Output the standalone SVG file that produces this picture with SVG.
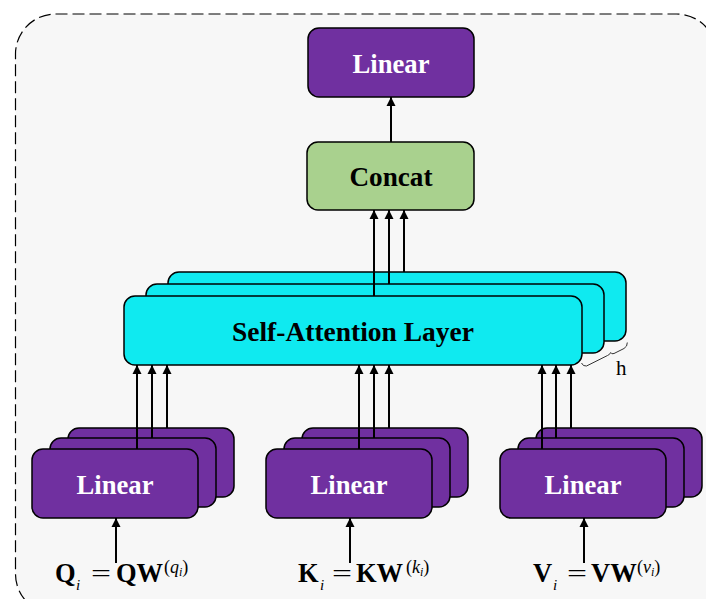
<svg xmlns="http://www.w3.org/2000/svg" width="706" height="599" viewBox="0 0 706 599">
<defs>
<marker id="ah" viewBox="0 0 10 10" refX="10" refY="5" markerWidth="9" markerHeight="10" markerUnits="userSpaceOnUse" orient="auto">
<path d="M0,0 L10,5 L0,10 z" fill="#000"/>
</marker>
<style>
.frame{fill:#f7f7f7;stroke:#000;stroke-width:1.2;stroke-dasharray:12,5}
.pur{fill:#7030a0;stroke:#000;stroke-width:1.5}
.grn{fill:#a9d18e;stroke:#000;stroke-width:1.5}
.cyn{fill:#0feaf0;stroke:#000;stroke-width:1.5}
.lbl{font-family:"Liberation Serif","Times New Roman",serif;font-weight:bold;font-size:28px;text-anchor:middle}
.wt{fill:#fff}
.bk{fill:#000}
.cn{stroke:#000;stroke-width:2;fill:none;marker-end:url(#ah)}
.f{font-family:"Liberation Serif","Times New Roman",serif;fill:#000}
.fb{font-weight:bold;font-size:26.5px}
.fn{font-size:26px}
.fi{font-style:italic;font-size:15px}
.fs{font-size:18px}
.fsi{font-style:italic;font-size:18px}
.fss{font-style:italic;font-size:12px}
</style>
</defs>
<rect class="frame" x="15.5" y="14" width="701" height="600" rx="40" ry="40"/>

<g id="linear-top">
<rect class="pur" x="308" y="28" width="166" height="69" rx="11"/>
<text class="lbl wt" x="391" y="73" textLength="77" lengthAdjust="spacingAndGlyphs">Linear</text>
</g>

<g id="concat">
<rect class="grn" x="307" y="142" width="167" height="68" rx="11"/>
<text class="lbl bk" x="391" y="186" textLength="83" lengthAdjust="spacingAndGlyphs">Concat</text>
</g>

<g id="self-attention">
<rect class="cyn" x="168" y="272" width="458" height="69" rx="11"/>
<rect class="cyn" x="146" y="284" width="458" height="69" rx="11"/>
<rect class="cyn" x="124" y="296" width="458" height="69" rx="11"/>
<text class="lbl bk" x="353" y="341" textLength="242" lengthAdjust="spacingAndGlyphs">Self-Attention Layer</text>
<path d="M581.5,363 Q583,366.5 586.5,366 L607.5,355.5 Q610,354.5 610.7,352.5 Q611.5,354.5 614,353.5 L624,348.5 Q627.5,346.5 627.3,342.5" fill="none" stroke="#333" stroke-width="1"/>
<text class="f" x="616" y="375" font-size="21">h</text>
</g>

<g id="linear-q">
<rect class="pur" x="68" y="428" width="166" height="69" rx="11"/>
<rect class="pur" x="50" y="438" width="166" height="69" rx="11"/>
<rect class="pur" x="32" y="449" width="166" height="69" rx="11"/>
<text class="lbl wt" x="115" y="494" textLength="77" lengthAdjust="spacingAndGlyphs">Linear</text>
</g>

<g id="linear-k">
<rect class="pur" x="302" y="428" width="166" height="69" rx="11"/>
<rect class="pur" x="284" y="438" width="166" height="69" rx="11"/>
<rect class="pur" x="266" y="449" width="166" height="69" rx="11"/>
<text class="lbl wt" x="349" y="494" textLength="77" lengthAdjust="spacingAndGlyphs">Linear</text>
</g>

<g id="linear-v">
<rect class="pur" x="536" y="428" width="166" height="69" rx="11"/>
<rect class="pur" x="518" y="438" width="166" height="69" rx="11"/>
<rect class="pur" x="500" y="449" width="166" height="69" rx="11"/>
<text class="lbl wt" x="583" y="494" textLength="77" lengthAdjust="spacingAndGlyphs">Linear</text>
</g>

<g id="formula-q" class="f">
<text class="fb" x="55" y="582">Q</text>
<text class="fi" x="76" y="590">i</text>
<text class="fn" x="91" y="582" textLength="20" lengthAdjust="spacingAndGlyphs">=</text>
<text class="fb" x="116" y="582">QW</text>
<text class="fs" x="164" y="573">(<tspan class="fsi">q</tspan><tspan class="fss" dy="3">i</tspan><tspan dy="-3">)</tspan></text>
</g>

<g id="formula-k" class="f">
<text class="fb" x="298" y="582">K</text>
<text class="fi" x="320" y="590">i</text>
<text class="fn" x="332" y="582" textLength="20" lengthAdjust="spacingAndGlyphs">=</text>
<text class="fb" x="356" y="582">KW</text>
<text class="fs" x="406" y="573">(<tspan class="fsi">k</tspan><tspan class="fss" dy="3">i</tspan><tspan dy="-3">)</tspan></text>
</g>

<g id="formula-v" class="f">
<text class="fb" x="533" y="582">V</text>
<text class="fi" x="553" y="590">i</text>
<text class="fn" x="567" y="582" textLength="20" lengthAdjust="spacingAndGlyphs">=</text>
<text class="fb" x="591" y="582">VW</text>
<text class="fs" x="637" y="573">(<tspan class="fsi">v</tspan><tspan class="fss" dy="3">i</tspan><tspan dy="-3">)</tspan></text>
</g>

<g id="connectors">
<line class="cn" x1="391" y1="142" x2="391" y2="97"/>
<line class="cn" x1="374" y1="296" x2="374" y2="210"/>
<line class="cn" x1="389" y1="284" x2="389" y2="210"/>
<line class="cn" x1="404" y1="272" x2="404" y2="210"/>

<line class="cn" x1="137" y1="449" x2="137" y2="365"/>
<line class="cn" x1="152" y1="438" x2="152" y2="365"/>
<line class="cn" x1="167" y1="428" x2="167" y2="365"/>

<line class="cn" x1="359" y1="449" x2="359" y2="365"/>
<line class="cn" x1="374" y1="438" x2="374" y2="365"/>
<line class="cn" x1="389" y1="428" x2="389" y2="365"/>

<line class="cn" x1="542" y1="449" x2="542" y2="365"/>
<line class="cn" x1="556" y1="438" x2="556" y2="365"/>
<line class="cn" x1="571" y1="428" x2="571" y2="365"/>

<line class="cn" x1="116" y1="563" x2="116" y2="518"/>
<line class="cn" x1="350" y1="563" x2="350" y2="518"/>
<line class="cn" x1="584" y1="563" x2="584" y2="518"/>
</g>
</svg>
